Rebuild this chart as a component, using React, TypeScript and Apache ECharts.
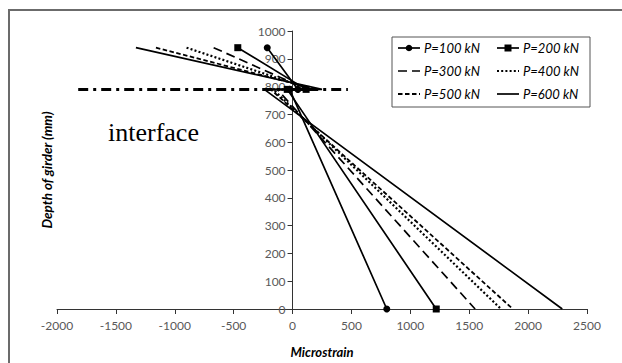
import React, { useEffect, useRef } from 'react';
import * as echarts from 'echarts';

// Series names (loads)
const seriesNames = ['P=100 kN', 'P=200 kN', 'P=300 kN', 'P=400 kN', 'P=500 kN', 'P=600 kN'];
// Depth of each measured point (mm): top of slab, interface (slab side), interface (girder side), bottom
const depths = [940, 790, 790, 0];
// Microstrain at each depth, per load
const strainP100 = [-215, 45, -25, 800];
const strainP200 = [-465, 115, -45, 1220];
const strainP300 = [-670, 125, -130, 1550];
const strainP400 = [-900, 160, -165, 1770];
const strainP500 = [-1160, 205, -185, 1870];
const strainP600 = [-1330, 250, -240, 2290];
const allStrains = [strainP100, strainP200, strainP300, strainP400, strainP500, strainP600];
// Interface line
const interfaceStrain = [-1820, 470];
const interfaceDepth = 790;

const FONT = 'Lato';

const styles: any[] = [
  { symbol: 'circle', symbolSize: 7, dash: null, width: 1.7 },
  { symbol: 'rect', symbolSize: 7, dash: null, width: 1.7 },
  { symbol: 'none', symbolSize: 0, dash: [9, 5], width: 1.7 },
  { symbol: 'none', symbolSize: 0, dash: [2, 2.2], width: 2.2 },
  { symbol: 'none', symbolSize: 0, dash: [4.5, 2.5], width: 1.8 },
  { symbol: 'none', symbolSize: 0, dash: null, width: 1.7 },
];

// grid geometry
const GL = 57, GR = 35, GT = 31, GB = 50, W = 622, H = 363;
const X_MIN = -2000, X_MAX = 2500;

function legendGraphics(): any[] {
  const out: any[] = [];
  const rowY = [48, 71, 94];
  const colX = [398, 497];
  seriesNames.forEach((name, i) => {
    const col = i % 2;
    const row = Math.floor(i / 2);
    const x0 = colX[col];
    const y = rowY[row];
    const st = styles[i];
    out.push({
      type: 'line',
      shape: { x1: x0, y1: y, x2: x0 + 22, y2: y },
      style: { stroke: '#000', lineWidth: st.width, lineDash: st.dash || undefined },
      z: 10,
      silent: true,
    });
    if (st.symbol === 'circle') {
      out.push({ type: 'circle', shape: { cx: x0 + 11, cy: y, r: 3.3 }, style: { fill: '#000' }, z: 11, silent: true });
    } else if (st.symbol === 'rect') {
      out.push({ type: 'rect', shape: { x: x0 + 7.5, y: y - 3.5, width: 7, height: 7 }, style: { fill: '#000' }, z: 11, silent: true });
    }
    out.push({
      type: 'text',
      x: x0 + 26,
      y,
      style: {
        text: name,
        fontFamily: FONT,
        fontStyle: 'italic',
        fontSize: 13,
        fill: '#000',
        align: 'left',
        verticalAlign: 'middle',
      },
      z: 11,
      silent: true,
    });
  });
  return out;
}

export default function App() {
  const ref = useRef<HTMLDivElement>(null);
  useEffect(() => {
    const chart = echarts.init(ref.current!, null, { renderer: 'svg' });
    const series: any[] = seriesNames.map((name, i) => ({
      name,
      type: 'line',
      data: allStrains[i].map((s, k) => [s, depths[k]]),
      symbol: styles[i].symbol,
      symbolSize: styles[i].symbolSize,
      showSymbol: styles[i].symbol !== 'none',
      lineStyle: { color: '#000', width: styles[i].width, type: styles[i].dash || 'solid' },
      itemStyle: { color: '#000' },
      z: 3,
    }));
    series.push({
      name: 'interface',
      type: 'line',
      data: interfaceStrain.map((s) => [s, interfaceDepth]),
      symbol: 'none',
      lineStyle: { color: '#000', width: 3, type: [10, 5, 3, 5] },
      z: 4,
    });
    const plotW = W - GL - GR;
    const zeroOffset = (-X_MIN / (X_MAX - X_MIN)) * plotW;
    chart.setOption({
      animation: false,
      backgroundColor: '#fff',
      grid: { left: GL, right: GR, top: GT, bottom: GB },
      xAxis: {
        type: 'value',
        min: X_MIN,
        max: X_MAX,
        interval: 500,
        name: 'Microstrain',
        nameLocation: 'middle',
        nameGap: 36,
        nameTextStyle: { fontFamily: FONT, fontStyle: 'italic', fontWeight: 'bold', fontSize: 13, color: '#000' },
        axisLine: { lineStyle: { color: '#333', width: 1 } },
        axisTick: { show: true, length: 5, lineStyle: { color: '#333' } },
        axisLabel: { fontFamily: FONT, fontSize: 12, color: '#595959', margin: 10, formatter: (v: number) => String(v) },
        splitLine: { show: false },
      },
      yAxis: {
        type: 'value',
        min: 0,
        max: 1000,
        interval: 100,
        offset: -zeroOffset,
        axisLine: { onZero: false, lineStyle: { color: '#333', width: 1 } },
        axisTick: { show: true, length: 5, lineStyle: { color: '#333' } },
        axisLabel: { fontFamily: FONT, fontSize: 12, color: '#595959', margin: 7, formatter: (v: number) => String(v) },
        splitLine: { show: false },
      },
      graphic: [
        {
          type: 'rect',
          shape: { x: 9, y: 10, width: 640, height: 400 },
          style: { fill: 'none', stroke: '#6b6b6b', lineWidth: 2 },
          silent: true,
        },
        {
          type: 'rect',
          shape: { x: 392, y: 37, width: 198, height: 70 },
          style: { fill: '#fff', stroke: '#555', lineWidth: 1 },
          z: 9,
          silent: true,
        },
        ...legendGraphics(),
        {
          type: 'text',
          x: 47,
          y: 170,
          rotation: Math.PI / 2,
          style: {
            text: 'Depth of girder (mm)',
            fontFamily: FONT,
            fontStyle: 'italic',
            fontWeight: 'bold',
            fontSize: 13.5,
            fill: '#000',
            align: 'center',
            verticalAlign: 'middle',
          },
        },
        {
          type: 'text',
          x: 108,
          y: 119,
          style: {
            text: 'interface',
            fontFamily: 'Liberation Serif',
            fontSize: 26,
            fill: '#000',
            align: 'left',
            verticalAlign: 'alphabetic',
          },
        },
      ],
      series,
    });
    return () => chart.dispose();
  }, []);
  return (
    <div
      ref={ref}
      style={{ position: 'absolute', left: 0, top: 0, width: W, height: H, background: '#fff' }}
    />
  );
}
